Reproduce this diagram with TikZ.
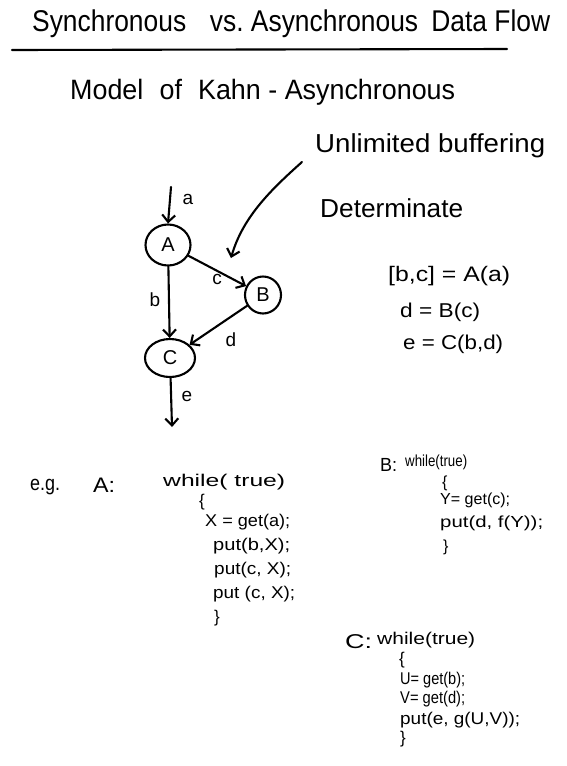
\documentclass[tikz,border=0pt]{standalone}
\usepackage{fontspec}
\usepackage{graphicx}
\setmainfont{Liberation Sans}
\usetikzlibrary{arrows.meta,shapes.geometric}
\newcommand{\fitw}[2]{\resizebox{#1}{\height}{#2}}
\begin{document}
\begin{tikzpicture}[x=1pt,y=-1pt,
  ink/.style={line width=2.1pt, line cap=round, line join=round},
  arr/.style={ink, -{Straight Barb[length=7pt,width=13pt,line width=2.1pt]}},
  procnode/.style={draw, ink, ellipse, inner sep=0pt, font=\fontsize{20}{22}\selectfont},
  elabel/.style={font=\fontsize{19}{21}\selectfont, inner sep=0pt},
  txt/.style={inner sep=0pt, anchor=west},
  codeA/.style={txt, font=\fontsize{17}{19}\selectfont},
  codeB/.style={txt, font=\fontsize{16}{18}\selectfont},
  codeC/.style={txt, font=\fontsize{17}{19}\selectfont}
]
\useasboundingbox (0,0) rectangle (567,766);
\fill[white] (0,0) rectangle (567,766);

% title
\node[txt, font=\fontsize{30}{33}\selectfont] (title) at (32,24) {\fitw{518pt}{Synchronous\hspace{0.9em}vs.\ Asynchronous\hspace{0.5em}Data Flow}};
\coordinate (ul) at (12,50);
\coordinate (ur) at (507,49);
\draw[ink] (ul) -- (ur);

\node[txt, font=\fontsize{28}{30}\selectfont] (model) at (70,92) {\fitw{385pt}{Model\hspace{0.6em}of\hspace{0.6em}Kahn - Asynchronous}};
\node[txt, font=\fontsize{26}{28}\selectfont] (unlim) at (315,146) {\fitw{230pt}{Unlimited buffering}};
\node[txt, font=\fontsize{26}{28}\selectfont] (determ) at (320,208) {\fitw{143pt}{Determinate}};

% graph
\node[procnode, minimum width=45pt, minimum height=41pt] (A) at (168,245) {A};
\node[procnode, minimum width=36pt, minimum height=37pt] (B) at (263,295) {B};
\node[procnode, minimum width=50pt, minimum height=38pt] (C) at (170,358) {C};

\coordinate (ain) at (171,187);
\coordinate (eout) at (172,427);
\draw[arr] (ain) -- (A.north);
\draw[arr] (A) -- (B);
\draw[arr] (A) -- (C);
\draw[arr] (B) -- (C);
\draw[arr] (C) -- (eout);

\node[elabel] (la) at (188,199) {a};
\node[elabel] (lc) at (217,279) {c};
\node[elabel] (lb) at (155,300) {b};
\node[elabel] (ld) at (231,340) {d};
\node[elabel] (le) at (187,396) {e};

% buffering arrow
\coordinate (bufs) at (302,162);
\coordinate (bufe) at (231,258);
\draw[arr] (bufs) .. controls (273,188) and (243,216) .. (bufe);

% equations
\node[txt, font=\fontsize{21}{23}\selectfont] (eq1) at (388,276) {\fitw{122pt}{[b,c] = A(a)}};
\node[txt, font=\fontsize{20}{22}\selectfont] (eq2) at (400,312) {\fitw{80pt}{d = B(c)}};
\node[txt, font=\fontsize{20}{22}\selectfont] (eq3) at (403,344) {\fitw{100pt}{e = C(b,d)}};

% code A
\node[txt, font=\fontsize{21}{23}\selectfont] (eg) at (30,487) {\fitw{30pt}{e.g.}};
\node[txt, font=\fontsize{21}{23}\selectfont] (Alab) at (93,485) {\fitw{22pt}{A:}};
\node[codeA] (a1) at (163,482) {\fitw{122pt}{while( true)}};
\node[codeA] (a2) at (199,502) {\{};
\node[codeA] (a3) at (205,522) {\fitw{85pt}{X = get(a);}};
\node[codeA] (a4) at (213,546) {\fitw{77pt}{put(b,X);}};
\node[codeA] (a5) at (214,570) {\fitw{77pt}{put(c, X);}};
\node[codeA] (a6) at (213,594) {\fitw{82pt}{put (c, X);}};
\node[codeA] (a7) at (214,618) {\}};

% code B
\node[txt, font=\fontsize{19}{21}\selectfont] (Blab) at (380,465) {\fitw{17pt}{B:}};
\node[codeB] (b1) at (405,462) {\fitw{62pt}{while(true)}};
\node[codeB] (b2) at (442,483) {\{};
\node[codeB] (b3) at (440,500) {\fitw{70pt}{Y= get(c);}};
\node[codeB] (b4) at (440,523) {\fitw{103pt}{put(d, f(Y));}};
\node[codeB] (b5) at (443,547) {\}};

% code C
\node[txt, font=\fontsize{20}{22}\selectfont] (Clab) at (345,642) {\fitw{27pt}{C:}};
\node[codeC] (c1) at (377,640) {\fitw{98pt}{while(true)}};
\node[codeC] (c2) at (399,660) {\{};
\node[codeC] (c3) at (400,680) {\fitw{65pt}{U= get(b);}};
\node[codeC] (c4) at (400,699) {\fitw{65pt}{V= get(d);}};
\node[codeC] (c5) at (400,720) {\fitw{120pt}{put(e, g(U,V));}};
\node[codeC] (c6) at (400,739) {\}};
\end{tikzpicture}
\end{document}
